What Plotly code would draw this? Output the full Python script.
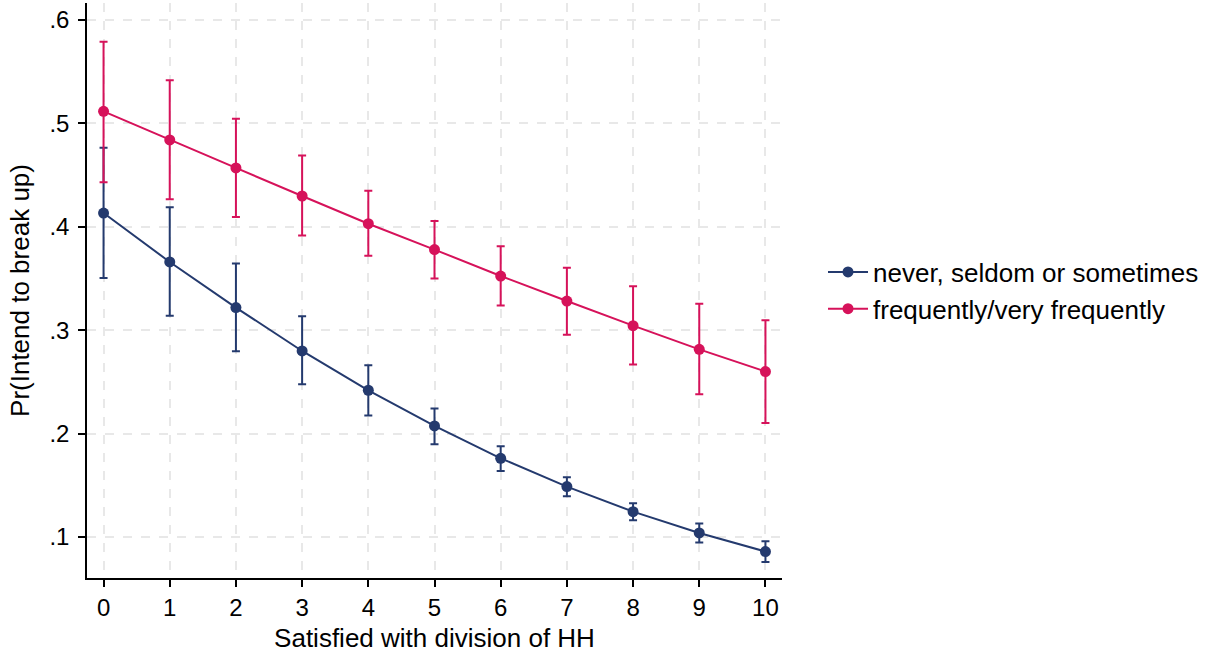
import plotly.graph_objects as go

x_vals = [0, 1, 2, 3, 4, 5, 6, 7, 8, 9, 10]

never_est = [0.4133, 0.366, 0.3219, 0.2799, 0.2419, 0.2074, 0.1761, 0.1487, 0.1245, 0.1039, 0.0859]
never_hi = [0.4766, 0.419, 0.3644, 0.3134, 0.266, 0.2242, 0.1877, 0.1577, 0.1326, 0.1129, 0.0958]
never_lo = [0.3505, 0.314, 0.2796, 0.2477, 0.2174, 0.1897, 0.1638, 0.1394, 0.1161, 0.0946, 0.0758]

freq_est = [0.5117, 0.484, 0.457, 0.4298, 0.403, 0.378, 0.3524, 0.3282, 0.3044, 0.2815, 0.260]
freq_hi = [0.579, 0.5417, 0.5046, 0.469, 0.435, 0.4056, 0.3811, 0.3605, 0.3425, 0.3257, 0.3096]
freq_lo = [0.443, 0.4266, 0.4095, 0.3915, 0.372, 0.350, 0.3238, 0.2957, 0.2667, 0.238, 0.2103]

y_ticks = [0.1, 0.2, 0.3, 0.4, 0.5, 0.6]
y_ticklabels = [".1", ".2", ".3", ".4", ".5", ".6"]

series = [
    ("never, seldom or sometimes", never_est, never_hi, never_lo, "#243a6e"),
    ("frequently/very frequently", freq_est, freq_hi, freq_lo, "#d6125a"),
]

fig = go.Figure()
for name, est, hi, lo, col in series:
    fig.add_trace(go.Scatter(
        x=x_vals, y=est, name=name, mode="lines+markers",
        line=dict(color=col, width=2),
        marker=dict(color=col, size=11),
        error_y=dict(type="data", symmetric=False,
                     array=[h - e for h, e in zip(hi, est)],
                     arrayminus=[e - l for e, l in zip(est, lo)],
                     color=col, thickness=2, width=4),
    ))

font_family = "Liberation Sans, Arial, sans-serif"
fig.update_layout(
    width=1215, height=656,
    margin=dict(l=87, r=433, t=3, b=78, autoexpand=False),
    paper_bgcolor="white", plot_bgcolor="white",
    font=dict(family=font_family, size=24, color="black"),
    showlegend=True,
    legend=dict(x=1.059, xanchor="left", y=0.5, yanchor="middle",
                font=dict(size=26), tracegroupgap=0, itemwidth=40,
                bgcolor="rgba(0,0,0,0)"),
    xaxis=dict(
        range=[-0.25, 10.25], tickvals=x_vals, ticktext=[str(v) for v in x_vals],
        showline=True, linecolor="black", linewidth=1.5,
        ticks="outside", ticklen=7, tickcolor="black", tickwidth=1.5,
        showgrid=True, gridcolor="#e8e8e8", gridwidth=2, griddash="dash",
        zeroline=False, tickfont=dict(size=24), automargin=False,
        title=dict(text="Satisfied with division of HH", font=dict(size=26), standoff=9),
    ),
    yaxis=dict(
        range=[0.0603, 0.6165], tickvals=y_ticks, ticktext=y_ticklabels,
        showline=True, linecolor="black", linewidth=1.5,
        ticks="outside", ticklen=7, tickcolor="black", tickwidth=1.5,
        showgrid=True, gridcolor="#e8e8e8", gridwidth=2, griddash="dash",
        zeroline=False, tickfont=dict(size=24), automargin=False,
        ticklabelstandoff=4,
        title=dict(text="Pr(Intend to break up)", font=dict(size=26), standoff=12),
    ),
)

fig.write_html("out.html",
               config={"displayModeBar": False},
               post_script="document.body.style.margin='0';document.body.style.overflow='hidden';")
